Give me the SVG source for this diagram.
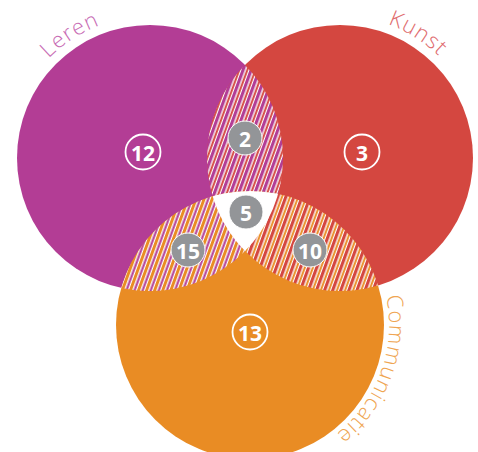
<svg xmlns="http://www.w3.org/2000/svg" width="478" height="452" viewBox="0 0 478 452">
<style>
.lbl{font-family:"Open Sans","Liberation Sans",sans-serif;font-weight:300;font-size:22px;letter-spacing:1px}
.num{font-family:"Open Sans","Liberation Sans",sans-serif;font-weight:700;font-size:21px;fill:#fff;text-anchor:middle;dominant-baseline:central}
.ring{fill:none;stroke:#fff;stroke-width:1.8}
.dot{fill:#939598;stroke:#fff;stroke-width:1}
</style>
<defs>
<circle id="cP" cx="150" cy="158" r="133"/>
<circle id="cR" cx="340" cy="158" r="133"/>
<circle id="cO" cx="250" cy="325" r="134"/>
<clipPath id="clipP"><use href="#cP"/></clipPath>
<clipPath id="clipR"><use href="#cR"/></clipPath>
<clipPath id="clipO"><use href="#cO"/></clipPath>
<pattern id="pPR" patternUnits="userSpaceOnUse" width="7.6" height="10" patternTransform="rotate(20)">
<rect width="7.6" height="10" fill="#fff"/><rect x="0" width="3.2" height="10" fill="#b33d95"/><rect x="4.5" width="2" height="10" fill="#d44740"/>
</pattern>
<pattern id="pPO" patternUnits="userSpaceOnUse" width="7.6" height="10" patternTransform="rotate(20)">
<rect width="7.6" height="10" fill="#fff"/><rect x="0" width="3" height="10" fill="#e98c24"/><rect x="4.3" width="2.1" height="10" fill="#b33d95"/>
</pattern>
<pattern id="pRO" patternUnits="userSpaceOnUse" width="7.6" height="10" patternTransform="rotate(20)">
<rect width="7.6" height="10" fill="#fff"/><rect x="0" width="3.2" height="10" fill="#d44740"/><rect x="4.5" width="2" height="10" fill="#e98c24"/>
</pattern>
<path id="arcL" d="M14.2,116.5 A142,142 0 0 1 167.3,17.1"/>
<path id="arcK" d="M320.2,17.4 A142,142 0 0 1 475.1,114.1"/>
<path id="arcC" d="M356.5,235.7 A139,139 0 0 1 274.1,461.9"/>
</defs>
<rect width="478" height="452" fill="#fff"/>
<g id="leren">
<use href="#cP" fill="#b33d95"/>
<text class="lbl" fill="#c86cb4"><textPath href="#arcL" startOffset="50%" text-anchor="middle">Leren</textPath></text>
</g>
<g id="kunst">
<use href="#cR" fill="#d44740"/>
<text class="lbl" fill="#e06c6e"><textPath href="#arcK" startOffset="50%" text-anchor="middle">Kunst</textPath></text>
</g>
<g id="communicatie">
<use href="#cO" fill="#e98c24"/>
<text class="lbl" fill="#efa552"><textPath href="#arcC" startOffset="50%" text-anchor="middle">Communicatie</textPath></text>
</g>
<g id="leren-kunst">
<g clip-path="url(#clipP)"><rect x="0" y="0" width="478" height="452" fill="url(#pPR)" clip-path="url(#clipR)"/></g>
</g>
<g id="leren-communicatie">
<g clip-path="url(#clipP)"><rect x="0" y="0" width="478" height="452" fill="url(#pPO)" clip-path="url(#clipO)"/></g>
</g>
<g id="kunst-communicatie">
<g clip-path="url(#clipR)"><rect x="0" y="0" width="478" height="452" fill="url(#pRO)" clip-path="url(#clipO)"/></g>
</g>
<g id="alle-drie">
<g clip-path="url(#clipP)"><g clip-path="url(#clipR)"><rect x="0" y="0" width="478" height="452" fill="#fff" clip-path="url(#clipO)"/></g></g>
</g>
<g id="badges">
<g id="b12"><circle class="ring" cx="143" cy="152" r="17.5"/><text class="num" x="143" y="153">12</text></g>
<g id="b3"><circle class="ring" cx="362" cy="152" r="17.5"/><text class="num" x="362" y="153">3</text></g>
<g id="b13"><circle class="ring" cx="250" cy="332" r="17.5"/><text class="num" x="250" y="333">13</text></g>
<g id="b2"><circle class="dot" cx="245" cy="138" r="17"/><text class="num" x="245" y="139">2</text></g>
<g id="b5"><circle class="dot" cx="246" cy="212" r="17"/><text class="num" x="246" y="213">5</text></g>
<g id="b15"><circle class="dot" cx="188" cy="250" r="17"/><text class="num" x="188" y="251">15</text></g>
<g id="b10"><circle class="dot" cx="310" cy="250" r="17"/><text class="num" x="310" y="251">10</text></g>
</g>
</svg>
